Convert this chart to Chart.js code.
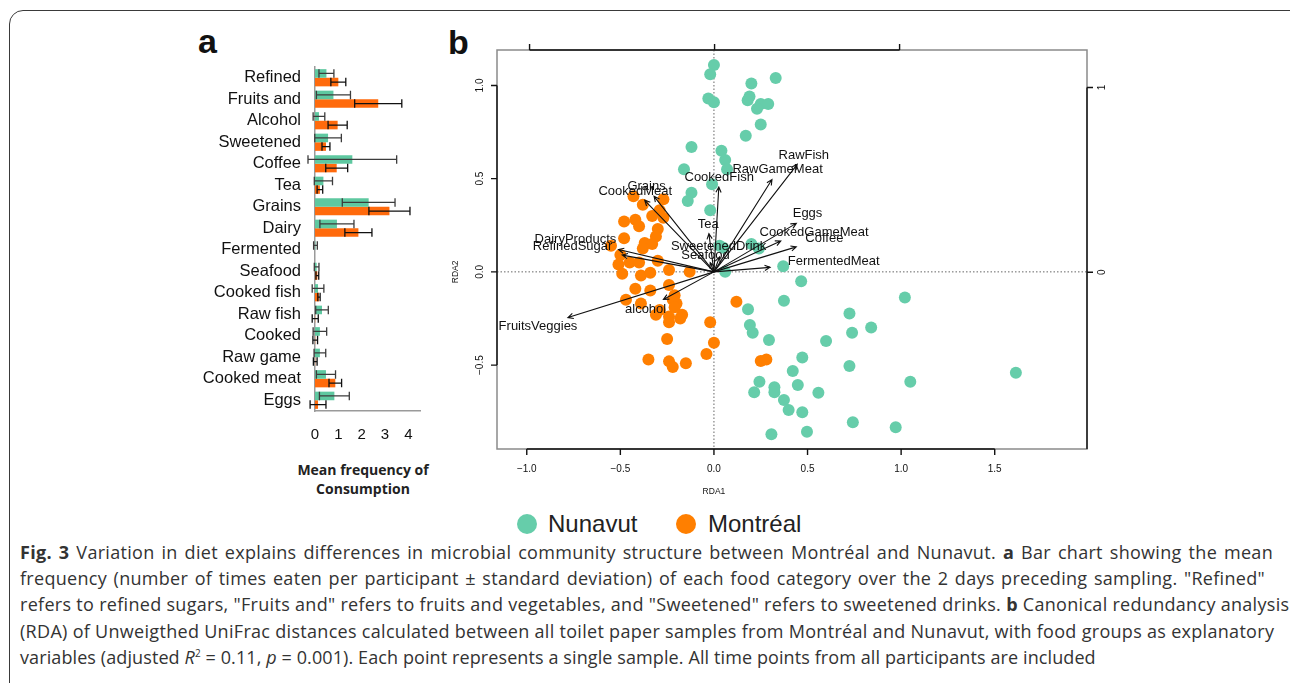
<!DOCTYPE html>
<html>
<head>
<meta charset="utf-8">
<script src="https://cdn.jsdelivr.net/npm/chart.js@4.4.1/dist/chart.umd.min.js"></script>
<style>
  body { margin: 0; width: 1290px; height: 683px; overflow: hidden; background: #fff; position: relative; font-family: 'Liberation Sans', Arial, sans-serif; }
  canvas { position: absolute; }
  #frame { position: absolute; left: 9px; top: 10px; width: 1300px; height: 700px; border: 1.5px solid #3a3a3a; border-radius: 14px; }
  .panel { position: absolute; font: bold 34px/34px 'Liberation Sans', Arial, sans-serif; color: #111; }
  #xTitle { position: absolute; left: 283px; top: 460px; width: 160px; text-align: center; font: bold 14px/19px 'Open Sans', sans-serif; color: #222; }
  .leg { position: absolute; top: 512px; font: 24px/24px 'Liberation Sans', Arial, sans-serif; color: #222; }
  .dot { position: absolute; top: 514px; width: 20px; height: 20px; border-radius: 50%; }
  #caption { position: absolute; left: 20px; top: 539px; font: 18px/26.2px 'Open Sans', sans-serif; color: #333; letter-spacing: 0.3px; }
  #caption .ln { white-space: nowrap; width: 1253px; text-align: justify; text-align-last: justify; }
  #caption .last { white-space: nowrap; letter-spacing: 0.1px; }
  #caption sup { font-size: 10px; line-height: 0; }
</style>
</head>
<body>
<div id="frame"></div>
<div class="panel" style="left:198px;top:24px">a</div>
<div class="panel" style="left:448px;top:25px">b</div>

<canvas id="barChart" width="240" height="400" style="left:190px;top:60px"></canvas>
<div id="xTitle">Mean frequency of<br>Consumption</div>

<canvas id="rdaChart" width="700" height="490" style="left:440px;top:20px"></canvas>

<div class="dot" style="left:517px;background:#66cdaa"></div>
<div class="leg" style="left:548px">Nunavut</div>
<div class="dot" style="left:676px;background:#ff7f00"></div>
<div class="leg" style="left:708px">Montréal</div>

<div id="caption">
<div class="ln"><b>Fig. 3</b> Variation in diet explains differences in microbial community structure between Montréal and Nunavut. <b>a</b> Bar chart showing the mean</div>
<div class="ln" style="width:1245px">frequency (number of times eaten per participant ± standard deviation) of each food category over the 2 days preceding sampling. "Refined"</div>
<div class="ln">refers to refined sugars, "Fruits and" refers to fruits and vegetables, and "Sweetened" refers to sweetened drinks. <b>b</b> Canonical redundancy analysis</div>
<div class="ln">(RDA) of Unweigthed UniFrac distances calculated between all toilet paper samples from Montréal and Nunavut, with food groups as explanatory</div>
<div class="last">variables (adjusted <i>R</i><sup>2</sup> = 0.11, <i>p</i> = 0.001). Each point represents a single sample. All time points from all participants are included</div>
</div>

<script>
// panel a: mean frequency of consumption
const categories = ['Refined', 'Fruits and', 'Alcohol', 'Sweetened', 'Coffee', 'Tea', 'Grains', 'Dairy',
  'Fermented', 'Seafood', 'Cooked fish', 'Raw fish', 'Cooked', 'Raw game', 'Cooked meat', 'Eggs'];
const nunavutMean = [0.49, 0.79, 0.17, 0.56, 1.60, 0.36, 2.30, 0.94, 0.02, 0.07, 0.13, 0.30, 0.21, 0.21, 0.47, 0.83];
const nunavutSD   = [0.32, 0.73, 0.25, 0.57, 1.90, 0.39, 1.13, 0.73, 0.08, 0.10, 0.25, 0.27, 0.29, 0.25, 0.41, 0.64];
const montrealMean = [1.00, 2.71, 0.97, 0.47, 0.93, 0.21, 3.19, 1.86, 0.00, 0.10, 0.17, 0.01, 0.01, 0.01, 0.87, 0.13];
const montrealSD   = [0.32, 1.01, 0.41, 0.17, 0.47, 0.12, 0.88, 0.58, 0.00, 0.06, 0.05, 0.13, 0.10, 0.08, 0.27, 0.34];
const barTicks = [0, 1, 2, 3, 4];

// panel b: RDA site scores
const nunavutX = [0.00, -0.02, 0.33, 0.20, -0.03, 0.00, 0.19, 0.18, 0.25, 0.29, 0.23, 0.25, 0.17, -0.12, 0.04, 0.06,
  0.07, -0.16, -0.01, -0.12, -0.14, -0.02, 0.03, 0.20, 0.24, 0.05, 0.06, 0.37,
  0.466, 1.02, 0.374, 0.182, 0.724, 0.84, 0.192, 0.207, 0.738, 0.294, 0.599, 0.472, 0.724, 1.613, 0.421,
  1.049, 0.243, 0.323, 0.448, 0.215, 0.323, 0.558, 0.374, 0.399, 0.472, 0.742, 0.971, 0.307, 0.497];
const nunavutY = [1.11, 1.06, 1.04, 1.01, 0.93, 0.91, 0.94, 0.92, 0.90, 0.90, 0.875, 0.79, 0.73, 0.67, 0.65, 0.60,
  0.55, 0.55, 0.47, 0.425, 0.38, 0.33, 0.14, 0.15, 0.125, 0.13, 0.00, 0.03,
  -0.05, -0.137, -0.155, -0.20, -0.223, -0.298, -0.285, -0.327, -0.327, -0.366, -0.371, -0.459, -0.505, -0.541, -0.532,
  -0.589, -0.589, -0.619, -0.607, -0.646, -0.646, -0.648, -0.687, -0.741, -0.753, -0.807, -0.833, -0.871, -0.857];
const montrealX = [-0.43, -0.38, -0.27, -0.33, -0.29, -0.27, -0.48, -0.42, -0.40, -0.30, -0.31, -0.48, -0.55, -0.37,
  -0.33, -0.38, -0.50, -0.51, -0.45, -0.40, -0.30, -0.24, -0.49, -0.39, -0.34, -0.13,
  -0.42, -0.34, -0.24, -0.47, -0.39, -0.21, -0.20, -0.29, -0.24, -0.17, -0.24, -0.02, 0.12, -0.22, -0.31, -0.18,
  -0.25, 0.00, -0.04, -0.35, -0.24, -0.22, -0.15, 0.25, 0.28, -0.21];
const montrealY = [0.405, 0.36, 0.39, 0.30, 0.33, 0.29, 0.27, 0.28, 0.245, 0.23, 0.19, 0.18, 0.14, 0.155,
  0.15, 0.125, 0.09, 0.04, 0.05, 0.05, 0.06, 0.01, -0.01, -0.02, -0.005, 0.00,
  -0.09, -0.10, -0.07, -0.15, -0.17, -0.125, -0.17, -0.205, -0.24, -0.23, -0.27, -0.27, -0.16, -0.15, -0.23, -0.25,
  -0.36, -0.38, -0.44, -0.47, -0.48, -0.51, -0.49, -0.478, -0.47, -0.19];

// panel b: food group biplot arrows
const envNames = ['FruitsVeggies', 'alcohol', 'RefinedSugar', 'DairyProducts', 'Grains', 'CookedMeat', 'CookedFish', 'Tea',
  'SweetenedDrink', 'Seafood', 'RawGameMeat', 'RawFish', 'Eggs', 'CookedGameMeat', 'Coffee', 'FermentedMeat'];
const envX = [-0.78, -0.27, -0.49, -0.51, -0.32, -0.37, 0.026, -0.027, 0.03, -0.02, 0.31, 0.445, 0.44, 0.357, 0.44, 0.30];
const envY = [-0.245, -0.148, 0.09, 0.12, 0.405, 0.384, 0.455, 0.205, 0.08, 0.05, 0.495, 0.577, 0.26, 0.166, 0.134, 0.024];
const envLabelX = [-0.94, -0.365, -0.755, -0.74, -0.36, -0.42, 0.028, -0.03, 0.025, -0.045, 0.34, 0.48, 0.50, 0.535, 0.59, 0.64];
const envLabelY = [-0.295, -0.20, 0.138, 0.173, 0.46, 0.434, 0.505, 0.254, 0.138, 0.09, 0.55, 0.625, 0.316, 0.213, 0.18, 0.057];

const rdaXTicks = [-1.0, -0.5, 0.0, 0.5, 1.0, 1.5];
const rdaYTicks = [-0.5, 0.0, 0.5, 1.0];
const topTicks = [-1, 0, 1];
const rightTicks = [0, 1];

const errorBars = {
  id: 'errorBars',
  afterDatasetsDraw(chart) {
    const ctx = chart.ctx;
    const x = chart.scales.x;
    const sds = [nunavutSD, montrealSD];
    ctx.save();
    chart.data.datasets.forEach((ds, di) => {
      const meta = chart.getDatasetMeta(di);
      ctx.strokeStyle = di === 0 ? '#3c3c3c' : '#111';
      ctx.lineWidth = 1.3;
      meta.data.forEach((bar, i) => {
        const sd = sds[di][i];
        if (!sd) return;
        const x1 = x.getPixelForValue(ds.data[i] - sd);
        const x2 = x.getPixelForValue(ds.data[i] + sd);
        const h = bar.height / 2;
        ctx.beginPath();
        ctx.moveTo(x1, bar.y); ctx.lineTo(x2, bar.y);
        ctx.moveTo(x1, bar.y - h); ctx.lineTo(x1, bar.y + h);
        ctx.moveTo(x2, bar.y - h); ctx.lineTo(x2, bar.y + h);
        ctx.stroke();
      });
    });
    ctx.restore();
  }
};

new Chart(document.getElementById('barChart'), {
  type: 'bar',
  data: {
    labels: categories,
    datasets: [
      { label: 'Nunavut', data: nunavutMean, backgroundColor: '#5ec8a0' },
      { label: 'Montréal', data: montrealMean, backgroundColor: '#ff6a0c' }
    ]
  },
  options: {
    indexAxis: 'y',
    responsive: false,
    animation: false,
    layout: { padding: { top: 7, right: 10, left: 0, bottom: 0 } },
    datasets: { bar: { categoryPercentage: 0.8, barPercentage: 1.0 } },
    plugins: { legend: { display: false }, tooltip: { enabled: false } },
    scales: {
      y: {
        grid: { display: false, drawTicks: false },
        border: { color: '#9a9a9a', width: 1.5 },
        ticks: { autoSkip: false, padding: 14, color: '#111', font: { family: "'Liberation Sans', Arial", size: 16.5 } },
        afterFit(s) { s.width = 125; s.paddingTop = 0; s.paddingBottom = 0; }
      },
      x: {
        min: 0,
        max: 4.5,
        grid: { display: false, drawTicks: false },
        border: { color: '#9a9a9a', width: 1.5 },
        ticks: { padding: 15, color: '#111', maxRotation: 0, font: { family: "'Liberation Sans', Arial", size: 15 } },
        afterBuildTicks(s) { s.ticks = barTicks.map(v => ({ value: v })); },
        afterFit(s) { s.height = 49; s.paddingLeft = 0; s.paddingRight = 0; }
      }
    }
  },
  plugins: [errorBars]
});

function fmtTick(v) {
  return v.toFixed(1).replace('-', '\u2212');
}

const rdaFrame = {
  id: 'rdaFrame',
  beforeDatasetsDraw(chart) {
    const { ctx, chartArea: a, scales: { x, y } } = chart;
    const x0 = x.getPixelForValue(0), y0 = y.getPixelForValue(0);
    ctx.save();
    ctx.strokeStyle = '#666';
    ctx.lineWidth = 1;
    ctx.setLineDash([1.5, 2]);
    ctx.beginPath();
    ctx.moveTo(x0, a.top); ctx.lineTo(x0, a.bottom);
    ctx.moveTo(a.left, y0); ctx.lineTo(a.right, y0);
    ctx.stroke();
    ctx.restore();
  },
  afterDatasetsDraw(chart) {
    const { ctx, chartArea: a, scales: { x, y, x2, y2 } } = chart;
    const x0 = x.getPixelForValue(0), y0 = y.getPixelForValue(0);
    ctx.save();

    // arrows
    ctx.strokeStyle = '#111';
    ctx.lineWidth = 1.1;
    envNames.forEach((name, i) => {
      const tx = x.getPixelForValue(envX[i]), ty = y.getPixelForValue(envY[i]);
      const ang = Math.atan2(ty - y0, tx - x0);
      ctx.beginPath();
      ctx.moveTo(x0, y0); ctx.lineTo(tx, ty);
      ctx.moveTo(tx - 6 * Math.cos(ang - 0.45), ty - 6 * Math.sin(ang - 0.45));
      ctx.lineTo(tx, ty);
      ctx.lineTo(tx - 6 * Math.cos(ang + 0.45), ty - 6 * Math.sin(ang + 0.45));
      ctx.stroke();
    });
    ctx.fillStyle = '#111';
    ctx.font = "13px 'Liberation Sans', Arial";
    ctx.textAlign = 'center';
    ctx.textBaseline = 'middle';
    envNames.forEach((name, i) => {
      ctx.fillText(name, x.getPixelForValue(envLabelX[i]), y.getPixelForValue(envLabelY[i]));
    });

    // box
    ctx.strokeStyle = '#8a8a8a';
    ctx.lineWidth = 1.5;
    ctx.strokeRect(a.left, a.top, a.right - a.left, a.bottom - a.top);

    // axes
    ctx.strokeStyle = '#111';
    ctx.lineWidth = 1.4;
    ctx.beginPath();
    ctx.moveTo(x.getPixelForValue(rdaXTicks[0]), a.bottom);
    ctx.lineTo(x.getPixelForValue(rdaXTicks[rdaXTicks.length - 1]), a.bottom);
    rdaXTicks.forEach(v => { const p = x.getPixelForValue(v); ctx.moveTo(p, a.bottom); ctx.lineTo(p, a.bottom + 6); });
    ctx.moveTo(a.left, y.getPixelForValue(rdaYTicks[0]));
    ctx.lineTo(a.left, y.getPixelForValue(rdaYTicks[rdaYTicks.length - 1]));
    rdaYTicks.forEach(v => { const p = y.getPixelForValue(v); ctx.moveTo(a.left, p); ctx.lineTo(a.left - 6, p); });
    ctx.moveTo(x2.getPixelForValue(topTicks[0]), a.top);
    ctx.lineTo(x2.getPixelForValue(topTicks[topTicks.length - 1]), a.top);
    topTicks.forEach(v => { const p = x2.getPixelForValue(v); ctx.moveTo(p, a.top); ctx.lineTo(p, a.top - 6); });
    ctx.moveTo(a.right, y2.getPixelForValue(rightTicks[rightTicks.length - 1]));
    ctx.lineTo(a.right, a.bottom);
    rightTicks.forEach(v => { const p = y2.getPixelForValue(v); ctx.moveTo(a.right, p); ctx.lineTo(a.right + 6, p); });
    ctx.stroke();

    ctx.fillStyle = '#111';
    ctx.font = "10px 'Liberation Sans', Arial";
    rdaXTicks.forEach(v => ctx.fillText(fmtTick(v), x.getPixelForValue(v), a.bottom + 20));
    rdaYTicks.forEach(v => {
      ctx.save();
      ctx.translate(a.left - 17, y.getPixelForValue(v));
      ctx.rotate(-Math.PI / 2);
      ctx.fillText(fmtTick(v), 0, 0);
      ctx.restore();
    });
    rightTicks.forEach(v => {
      ctx.save();
      ctx.translate(a.right + 15, y2.getPixelForValue(v));
      ctx.rotate(-Math.PI / 2);
      ctx.fillText(String(v), 0, 0);
      ctx.restore();
    });

    // axis titles
    ctx.font = "8.5px 'Liberation Sans', Arial";
    ctx.fillText('RDA1', x0, a.bottom + 43);
    ctx.save();
    ctx.translate(a.left - 41, y0);
    ctx.rotate(-Math.PI / 2);
    ctx.fillText('RDA2', 0, 0);
    ctx.restore();

    ctx.restore();
  }
};

function toPoints(xs, ys) {
  return xs.map((v, i) => ({ x: v, y: ys[i] }));
}

new Chart(document.getElementById('rdaChart'), {
  type: 'scatter',
  data: {
    datasets: [
      { label: 'Nunavut', data: toPoints(nunavutX, nunavutY), backgroundColor: '#66cdaa', borderWidth: 0, pointRadius: 6 },
      { label: 'Montréal', data: toPoints(montrealX, montrealY), backgroundColor: '#ff7f00', borderWidth: 0, pointRadius: 6 }
    ]
  },
  options: {
    responsive: false,
    animation: false,
    layout: { padding: { left: 57, top: 30, right: 53, bottom: 61 } },
    plugins: { legend: { display: false }, tooltip: { enabled: false } },
    scales: {
      x: { type: 'linear', display: false, min: -1.159, max: 1.993 },
      y: { type: 'linear', display: false, min: -0.95, max: 1.19 },
      x2: { type: 'linear', display: false, position: 'top', min: -1.176, max: 2.013 },
      y2: { type: 'linear', display: false, position: 'right', min: -0.957, max: 1.203 }
    }
  },
  plugins: [rdaFrame]
});
</script>
</body>
</html>
